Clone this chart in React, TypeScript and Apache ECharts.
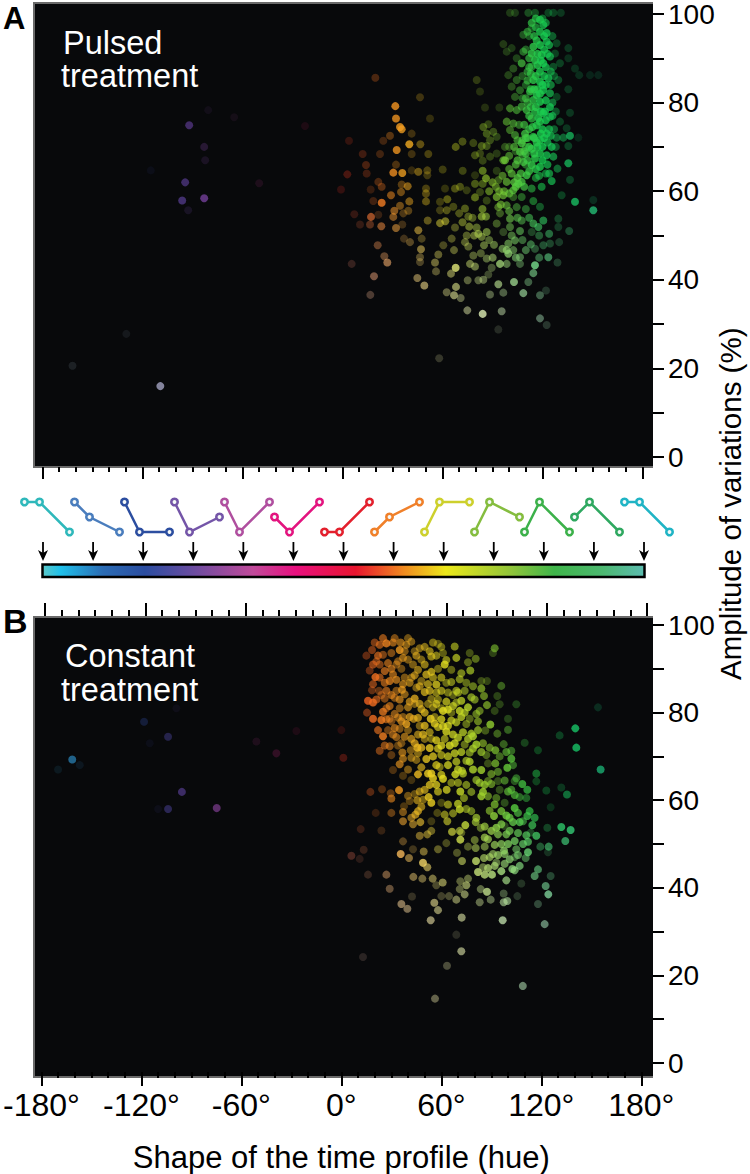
import React, { useEffect, useRef } from "react";
import * as echarts from "echarts";

type P = [number, number, number];

const pulsedPoints: P[] = [
[-92,74.9,.55],[-83,70,.25],[-82.4,67,.15],[-94.4,62,.55],[-96.2,57.9,.6],[-83,58.4,.7],[-92.6,55.7,.15],[-109.3,16,.7],[-162,20.6,.12],[-129.7,27.8,.08],[-80.6,78.3,.08],[-65,76.7,.08],[-22.5,74.7,.1],[-50,61.8,.12],[-115,64.7,.08],[58,22.3,.2],
[100.5,100.3,.25],[103.5,100.3,.25],[111.5,100.3,.35],[115.5,100.3,.35],[123.5,100.3,.3],[126.5,100.3,.3],[131,100.3,.25],
[118.5,98.7,.8],[120.5,97.5,.75],[113.5,98,.7],[122.5,95.7,.8],[118.5,96,.8],[116.5,94,.75],[122.5,93.8,.75],[114.5,92.6,.85],[118.5,93,.85],[113.5,91.1,.8],[119.5,90.8,.8],[124.5,90.4,.7],[115.5,89.6,.8],[120.5,88.9,.8],[107.5,88.9,.7],[113.5,88.1,.6],[118.5,87,.8],[123.5,85.5,.75],[114.5,85.1,.8],[118.5,84.7,.85],[112.5,82.5,.75],[120.5,82.8,.8],[116.5,81.7,.85],[124.5,82.1,.7],[114.5,80.6,.75],[118.5,80.2,.85],[124.5,79,.8],[110.5,78.3,.7],[115.5,77.9,.75],[120.5,77.6,.8],[113.5,76.4,.7],[118.5,75.7,.8],[124.5,76.8,.7],[116.5,74.9,.8],[109.5,73,.75],[122.5,73,.75],[114.5,72.3,.75],[118.5,71.5,.8],[107.5,70.8,.75],[125.5,70,.75],[113.5,69.6,.8],[106.5,68.9,.75],[118.5,68.5,.8],[122.5,68.1,.75],[115.5,67.4,.8],[126.5,67.8,.65],[108.5,66.6,.7],[118.5,65.5,.8],[113.5,65.9,.8],
[116,97,.6],[120,99,.5],[121,92,.75],[117,91,.8],[123,91,.7],[112,88,.6],[116,86,.8],[121,86,.75],[111,85,.6],[113,83,.75],[117,83,.8],[122,84,.7],[110,81,.6],[113,79,.7],[119,78,.85],[122,76,.8],[112,74,.7],[115,72,.8],[120,74,.8],[124,74,.7],[110,72,.7],[112,70,.75],[117,70,.8],[120,70,.8],[123,71,.7],[109,69,.7],[111,67,.7],[120,67,.8],[123,66,.7],[116,65,.75],[104,66,.65],[100,65,.55],[105,63,.75],[109,61,.7],[103,62,.75],[97,60,.6],[92,61,.5],
[111,96,.55],[116,99,.7],[122,98,.6],[124,93,.7],[115,95,.7],[121,95,.8],[119,89.5,.85],[112,90,.65],[111,87,.55],[122,88,.75],[125,87,.6],[117,88.5,.8],[113,86.5,.7],[120,84,.85],[125,84,.6],[115,83,.8],[118.5,82,.85],[122,80.5,.8],[111,80,.6],[126,80,.55],[116,79,.8],[112,77,.7],[117.5,76.5,.85],[121.5,78,.8],[126,77,.6],[109,75,.65],[114,74.5,.75],[119,73,.85],[125,72.5,.7],[111,72,.7],[116.5,71,.8],[108,71.5,.65],[121,72,.8],[103,70,.6],[105,71.5,.6],[110,68.5,.7],[115,68.5,.8],[105,67,.7],[112,64.5,.75],[124,64,.65],[107,64,.7],[118,63.5,.6],[100,68,.55],[96,63.5,.55],[90,62,.55],[100,59.5,.65],[104,61,.75],[94,60,.6],[88,60,.55],[95,57,.6],[84,56,.55],[78,54,.4],[72,53,.45],[76,52,.5],[79,50,.5],[70,55,.35],[105,54,.55],[112,54,.55],[100,55.5,.55],[113,48,.5],[108,49,.45],[118,50,.4],[96,47,.55],[104,45,.55],[118,45,.45],[83,46,.4],[88,49,.45],
[102.5,87.7,.35],[99.5,86.2,.3],[104.5,85.1,.4],[101.5,83.6,.35],[106.5,82.8,.45],[103.5,81.3,.4],[107.5,79.1,.6],[100.5,78.7,.55],[104.5,78.3,.55],[98.5,75.7,.55],[102.5,75.3,.55],[100.5,73.8,.5],[103.5,72.7,.55],[97.5,67,.7],[101.5,64,.65],[105.5,61.7,.8],[110.5,63.6,.8],[98.5,62.1,.65],[102.5,60.2,.7],[107.5,62.1,.75],[113.5,60.6,.55],[119.5,61,.6],[125.5,62.3,.7],
[110,84,.4],[108,81,.45],[112,95,.4],[110,92,.45],[108,86,.4],[126,95,.45],[127,86,.4],[128,78,.4],[127,74,.45],[106,75,.5],[110,70,.5],[128,70,.4],[110,66,.5],[122,64,.55],[116,63,.55],[108,68,.5],[104,69,.4],[100,70,.35],
[135.5,92.3,.25],[135.5,90,.2],[130.5,88.9,.3],[139.5,87.7,.2],[142,86.2,.2],[148.5,86.2,.15],[153.5,86.2,.15],[135.5,83,.25],[128.5,81.3,.3],[136.5,77.7,.25],[130.5,75.7,.3],[134.5,74.2,.25],[136.5,72.5,.75],[128.5,72.1,.5],[132.5,72.1,.5],[141.5,72.1,.15],[135.5,70.2,.3],[135.5,66.3,.75],[129,65.1,.5],[136.5,62.6,.3],[131.5,59.1,.3],[139.5,57.6,.8],[150.5,58,.2],[150.5,55.7,.8],
[96.5,93.2,.25],[98.5,91.5,.25],[101.5,92.3,.25],[108.5,95.3,.4],[108.5,91.5,.5],[113.5,96.8,.4],[128.5,93.4,.3],[127.5,91.1,.3],[126.5,88.1,.35],[129.5,85.1,.35],[104.5,90,.3],[80.5,85.1,.25],[82.5,82.5,.2],[85.5,78.9,.2],[94.1,78.9,.2],
[84.5,74.5,.4],[87.5,75.1,.3],[86.5,73,.4],[90.5,73.4,.35],[88.5,71.5,.35],[92.5,72.3,.3],[83.5,70.2,.4],[86.5,70.2,.35],[67.9,70,.4],[72,71.2,.35],[78.5,70.9,.3],[97.5,70,.35],[79.5,68.1,.35],[82.5,68.5,.3],[84.1,66.9,.3],[88.5,67.8,.3],[96.5,67,.6],[92.5,68.5,.25],
[84.1,64.6,.55],[72.1,64.6,.3],[60.1,64.9,.25],[92.5,64.6,.25],[79.5,63.6,.2],[86.1,62.9,.65],[93.5,62.5,.4],[84.1,61.7,.4],[79.5,61.7,.4],[70.5,61,.35],[67.5,60.6,.35],[61.5,60.6,.2],[74.5,60.2,.25],[82.5,59.8,.3],
[92.5,58.7,.65],[96.5,59.1,.65],[79.5,58.6,.5],[62.9,58.2,.4],[58.5,57.6,.25],[86.5,57.9,.3],[102.5,58.7,.4],[107.5,58.7,.45],[114.5,57.8,.5],[66.5,56.5,.3],[62.5,55.7,.35],[58.5,55.7,.25],[73.5,56.1,.4],[93.5,56.4,.5],[98.5,56.8,.55],[104.5,56.4,.45],[110,56,.45],[118.5,56.5,.4],
[75.5,54.3,.4],[83.5,54.3,.6],[86.1,54.3,.55],[94.5,55,.4],[100.5,53.8,.6],[107.5,53.4,.5],[129.5,53.8,.3],[120.5,53.4,.6],[114.5,52.7,.6],[117.5,51.9,.6],[58.5,52.8,.5],[61.7,53.2,.5],[51.1,53.4,.4],[67.5,51.8,.35],[80.5,51.8,.45],[92.5,52.7,.4],[100.5,51.9,.5],[106.5,51,.55],[129.5,51.9,.25],[136,51,.35],[124,50.4,.5],
[45.5,51.2,.55],[74.5,50,.4],[81.5,50.4,.55],[86.5,50.8,.55],[83.5,49.7,.5],[96.5,50.8,.3],[103.5,48.9,.55],[101.5,50,.5],[113.5,50.8,.3],[47.5,49.3,.3],[65.5,49.3,.35],[73.5,48.5,.4],[75.5,47.5,.4],[84.9,47.8,.5],[90.9,47.9,.5],[99.5,48.2,.55],[130,48.5,.25],[120.5,47.8,.35],[124.5,48.2,.3],
[47.1,46.9,.55],[60.5,47.8,.3],[66.9,46.7,.4],[98.5,46.7,.65],[102.5,46.7,.5],[110,46.7,.5],[115.5,47,.35],[57.5,45.7,.4],[46.5,45.1,.35],[46.5,44,.3],[55.5,43.9,.45],[78.5,45.5,.4],[86.5,44.8,.45],[90.1,45,.55],[99.5,45.9,.7],[106.5,45.1,.5],[123.5,45.1,.6],
[76.5,43.6,.5],[79.5,43,.5],[94.5,43.6,.75],[98.5,43.6,.5],[106.5,43.6,.4],[115.5,43.3,.85],[129,43.9,.25],[67.9,42.7,.95],[56.1,41.9,.35],[65.1,41.4,.5],[89.5,42.7,.35],[87.5,41.2,.3],[114.5,41.5,.6],
[44.9,40.4,.5],[75.1,39.9,.4],[81.5,39.9,.4],[84.5,40,.45],[93.5,39,.65],[102.9,39.5,.75],[111.5,39.5,.4],[49.1,38.7,.6],[68.1,38.4,.6],[62.5,37.2,.4],[66.9,36.5,.6],[70.9,35.9,.4],[88.5,36.7,.4],[96.5,37.1,.4],[108.5,37,.65],[118.5,36.5,.4],[122.1,37.6,.2],
[74.9,33.1,.5],[84.1,32.3,.9],[95.5,32.9,.5],[118.5,31.3,.45],[122.5,29.8,.2],[93.5,28.8,.15],
[19.7,85.6,.3],[46.5,81.2,.25],[31.7,79.2,.85],[32.1,76.4,.8],[34.5,74.5,.85],[35.5,74,.8],[52.5,76.4,.2],[3.9,71.4,.2],[41.5,73,.25],[28.5,72.5,.35],[24.5,71.4,.25],[40.1,70.6,.85],[46.7,70.6,.4],[32.5,69.3,.8],[12.1,68.4,.25],[22.5,68.4,.25],[41.5,68.4,.25],[51.5,68.4,.3],[14.1,65.9,.3],[32.1,66,.3],[2.9,63.8,.3],[14.5,64,.25],[30.5,64.2,.8],[35.9,64.1,.8],[45.5,64.4,.45],[41.5,64.7,.2],[50.9,64.7,.3],[50.9,63.6,.25],[21.5,62.1,.3],[23.5,61,.35],[35.5,61.5,.35],[39.1,61.1,.55],[16.9,60.4,.2],[-0.9,60.4,.2],[35.1,59.8,.45],[50.1,60.6,.3],[50.1,59.5,.35],[29.1,59.1,.55],[18.5,57.8,.25],[23.5,57.4,.9],[40.1,57.7,.5],[50.1,57.7,.4],[34.5,56.7,.45],[31.1,55.6,.55],[39.5,55.6,.35],[36.5,55,.3],[7.1,54.8,.2],[21.5,54.7,.2],[17.1,54.2,.65],[30.5,54.2,.5],[10.5,52.5,.2],[16.5,52.5,.35],[23.3,52.1,.55],[32.1,51.7,.55],[35.9,52.5,.25],[36.9,49.3,.25],[40.5,48.5,.35],[21.1,47.8,.4],[25.1,45.3,.4],[26.9,43.9,.6],[5.5,43.6,.2],[18.9,40.8,.5],[16.7,36.6,.3],
];

const constantPoints: P[] = [
[-161.5,69.3,.7],[-118.4,77.9,.3],[-104,74.5,.4],[-95.7,61.9,.55],[-104,58,.45],[-74.8,58.2,.6],[-170,67,.12],[-157,68,.12],[-51,73.4,.12],[-39,70.7,.2],[-27,75.8,.1],[0,76,.15],[-99,81,.08],[-115,73,.08],[-110,58,.08],
[27,95.8,.8],[23,95.5,.6],[18.4,94.3,.5],[35.6,96,.6],[42,96.2,.5],[35,94.3,.8],[30,93.6,.5],[21,91.7,.5],[25,93.2,.5],[23,91,.5],[17,89.6,.4],[28,91.3,.6],[34,91.7,.5],[40,92.1,.5],[47,94.7,.5],[53,94,.6],[58,95.7,.35],[68,95.1,.6],[61,93.6,.4],[69,92.5,.7],[92,94.7,.6],[91,93.6,.3],[77,93.6,.35],[80.6,92.3,.5],[76,91.5,.45],[62,91,.9],[54,92.8,.6],[48,92.1,.5],[43,91,.5],[46,89.8,.6],[54,89.3,.7],[51,88.7,.7],[66,89.8,.45],[77.4,89.6,.7],
[31,96,.6],[39,95.5,.55],[45,93,.6],[50,95,.55],[55,96,.5],[60,95,.45],[63,92,.6],[57,93,.55],[50,91,.6],[37,92.5,.6],[30,90,.6],[26,89.5,.65],[22,93,.65],[19,91,.6],[15,93,.4],[20,96,.5],[25,97,.6],[32,97,.5],[40,97,.45],
[19,86.5,.55],[23,88,.6],[27,85,.6],[33,87.5,.65],[37,86.5,.6],[44,88.5,.6],[47,86,.6],[52,86.5,.65],[55,88,.6],[60,88,.6],[60,85,.6],[66,87,.55],[69,85,.6],[72,89,.6],[74,85,.55],[79,86,.55],[80,83,.6],
[21,83,.6],[29,81.5,.6],[30,84,.6],[35,83,.65],[41,82.5,.65],[47,82,.65],[50,80,.7],[53,85,.65],[57,82,.65],[63,82.5,.7],[67,81.5,.7],[74,80,.7],[78,83.5,.65],[82,78,.6],
[22,76,.65],[27,78.5,.6],[32,76.5,.6],[36,78,.65],[41,79,.7],[46,78.8,.7],[49,75,.7],[56,77.5,.75],[60,78.5,.75],[64,77,.75],[67,75,.75],[72,79,.75],[73,75.5,.75],[82,76,.7],[85,73,.6],
[26,72.5,.55],[31,75,.55],[38,74.5,.6],[44,73,.7],[48,72,.75],[55,70,.75],[60,72.5,.75],[68,73,.8],[72,71,.75],[76,74,.75],[84,71,.7],[89,72,.6],[95,70,.5],[99,71,.6],[64,70,.7],
[40,67,.5],[48,67.5,.65],[57,68,.7],[64,68,.75],[70,67,.75],[75,69,.65],[90,66,.6],[94,66.5,.55],[57,63.5,.75],[58,62,.65],[66,64,.55],[70,64,.6],[86,63.5,.75],[83,64,.7],[98,64.5,.55],[100,62,.65],[105,65,.5],
[42,56,.55],[40,61,.45],[48,58.5,.6],[64,59,.6],[67,57,.55],[75,58,.55],[78,57.5,.55],[92,59,.7],[96,57.5,.75],[99,56.5,.8],[103,55,.75],[107,55,.75],[113,57.5,.7],[116,56,.65],[86,54,.7],[90,53,.75],[96,54.5,.75],[101,53,.7],[106,52.5,.7],[111,52,.7],[86,51.5,.7],[96,50,.7],[100,50,.75],[112,50.5,.7],
[89,47,.65],[94,47.5,.7],[101,46.5,.7],[106,47.5,.6],[88,44.5,.75],[92,45,.7],[104,44,.7],
[20.4,88.1,.9],[31,88.7,.6],[26,86.8,.6],[29,87.2,.7],[41,86.8,.6],[48,87.2,.5],[57,86.4,.75],[63,86.8,.45],[71,87.6,.6],[75,86.8,.5],[84,87.2,.35],[87.4,87.2,.3],[84,85.5,.65],[96,86.1,.45],
[36,90,.45],[38,88,.5],[33,85,.5],[24,84,.45],[27,81,.5],[35,81,.5],[44,82,.5],[42,88,.5],[30,78,.45],[37,79,.5],[28,76,.45],[40,76,.5],[47,77,.5],[56,79,.5],[58,83,.5],[60,81,.45],[67,84,.4],[66,80,.45],[52,82,.5],[50,74,.5],[36,73,.45],[54,74,.5],[33,91,.45],[58,90,.45],[38,94,.5],[44,94,.45],
[18.4,85.1,.4],[22.6,85,.4],[36.4,85.2,.7],[45,85.7,.5],[50,84.7,.7],[57,84.6,.55],[64,84.6,.5],[70,84.6,.6],[85.6,83.8,.6],[93.6,83.8,.3],
[16,82.7,.9],[19,82.3,.9],[26,83.2,.5],[32,83.4,.5],[44,83.2,.75],[38,84.2,.55],[54,83.1,.5],[72,82.7,.75],[69,82.3,.55],[76,81.2,.85],[87.4,81.7,.65],[95,81.9,.3],[105,81.9,.3],
[25,80.2,.75],[15.4,80,.45],[32,79.7,.55],[40,81.2,.6],[48,80.8,.65],[55,81.2,.5],[61,80.4,.9],[64,80.7,.85],[71,80.4,.85],[81,79.7,.55],[83,80.4,.55],[92,80.4,.3],
[19,78.6,.9],[24,78.3,.85],[29,78.6,.45],[34,78.9,.55],[43.4,78.6,.65],[53.6,78.6,.95],[66,78.2,.7],[69,77.8,.7],[77,78.6,.45],[100,78.6,.3],
[39,77.4,.8],[50,77,.75],[58,76.7,.65],[75,77.4,.5],[89.4,77.3,.85],[35,76.3,.5],[61,76.9,.75],[63,75.7,.8],[78,75.2,.75],[86.4,75.9,.4],[93.6,75.2,.45],[100,76.1,.45],[140.4,76.4,.85],
[25,74.6,.85],[33,74.4,.55],[46,75,.6],[53,75.5,.6],[79,74.6,.9],[70,74.3,.75],[131,74.8,.3],
[29,72.3,.55],[23,71.3,.5],[34,72.5,.4],[42,74,.65],[57,73.7,.75],[62,74,.6],[65,72.5,.95],[81,72.7,.9],[79,71.8,.75],[74,72.7,.5],[97.4,72.8,.45],[110,73.1,.3],
[45.6,72,.95],[53,71.9,.9],[58,71.8,.7],[46,70.7,.55],[36.6,70.9,.6],[41.6,71.4,.5],[92.4,71.4,.7],[87,70.3,.45],[102,71.3,.5],[118,71.4,.3],[141,72,.9],
[1.2,69.7,.3],[30,70.3,.35],[37,69.5,.6],[42,69.7,.55],[45,69.2,.5],[60,70.3,.6],[68,70.7,.75],[51,69.4,.8],[77,70.9,.6],[102,69.5,.75],
[35,68.2,.65],[77,68.8,.8],[69,68.8,.7],[92.4,68.4,.7],[88,68.4,.35],[103,68,.5],[31,66.9,.3],[59,67.6,.5],[99.6,67.4,.8],[79,67,.9],[84,66.9,.85],[72.4,66.7,.7],
[37,65.6,.3],[46,65.9,.85],[54,66.1,1],[52,66.1,.9],[60,65.8,.7],[68.4,65.9,.85],[73,66.1,.7],[117,66.1,.5],[42,64.6,.25],[61,64.9,.95],[55,65,.85],[81,64.6,.65],[88,64.4,.5],[94,64.4,.35],[104,64.4,.4],[117,64.3,.3],
[24.4,62.5,.3],[34.6,62.3,.85],[53,63.5,.75],[50,62.4,.65],[47,62,.6],[63.2,62.4,.75],[75,63.5,.6],[90,63.7,.6],[108.6,63.7,.75],[111.6,62.4,.7],[132,62.9,.25],
[17.4,61.9,.35],[29.6,61.6,.35],[44,61.4,.4],[71.4,62,.95],[78,61.9,.6],[85,61.9,.9],[95,62.4,.35],[102,62.4,.6],[123,62.2,.3],[135.4,61.3,.55],
[30,60.4,.6],[41,59.8,.35],[45.6,60,.6],[52.4,60.7,.9],[73.6,60.5,.6],[84,60.9,.85],[88,60.9,.6],[93,60.5,.5],[104,61.2,.65],[107,60.7,.5],[111,60.5,.45],[54,59.4,.85],[49,60.1,.5],[70,59.2,.75],[60,59.4,.3],[98,59.4,.35],
[71,57.9,.8],[46,57.5,.7],[37.6,58.6,.3],[89,57.6,.65],[104,58.2,.9],[125.6,58.4,.2],[20.6,57.1,.2],[30,57.1,.4],[37,57.3,.5],[44.4,56.7,.65],[57.6,57.1,.3],[62,56.7,.55],[91.6,56.4,.85],[101,56,.75],[106,57.1,.65],[111.6,56.4,.7],[81,56,.7],
[37,55.2,.6],[47.4,55,.65],[43,54.5,.55],[54,55.2,.25],[63.6,55.2,.6],[74.4,54.3,.9],[80.6,55,.65],[114.6,54.3,.7],[109,55.2,.55],[11.6,53.4,.2],[24,53.1,.2],[54,53,.45],[66.4,52.8,.7],[71,53,.6],[83.6,53.7,.5],[93,53.7,.8],[98,54.1,.3],[132,53.9,.8],[137.6,53.2,.85],[123.6,53.7,.3],
[47,51.9,.5],[51.6,52.2,.5],[72,52.6,.4],[94,52.2,.7],[99,52.2,.7],[117,51.9,.75],[113.6,52.6,.3],[71.4,51,1],[80,50.9,.5],[88,51.1,.7],[104,50.7,.75],[134.4,50.7,.7],[37,50.6,.35],[63,50.2,.3],[92,49.8,.7],[109,50,.7],[124.4,49.4,.6],
[80.6,49.1,.55],[86,49.4,.55],[119.4,49.4,.4],[43,48.8,.25],[58,48.8,.4],[76,49.4,.4],[97.6,48.5,.75],[105,48.8,.55],[112,48.1,.8],[13.4,48.7,.2],[49.4,48.3,.5],[69.4,48,.35],[35.6,47.7,1],[91,47.7,.6],[98,47.7,.65],[124,48.1,.2],
[6,47.3,.3],[11,46.6,.15],[40.6,46.8,.55],[85.6,46.8,.65],[110.6,46.8,.5],[104,47,.4],[49,45.7,.95],[72.4,46.1,.6],[80.8,46.1,1],[93,45.8,.5],[98,45.5,.65],[51.6,44.7,.6],[107,45,.7],[102.6,44.3,.75],[118,44.2,.6],[85,44.7,.5],[96,43.8,.85],
[16,43,.2],[27,43,.45],[82,43.6,1],[86,43,.8],[90.4,43,.85],[116,42.7,.6],[125.6,42.7,.3],[43.2,42.5,.5],[48.6,42.1,.45],[54.8,42.1,.5],[76,42.1,.45],[99,41.7,.7],[71.4,41.5,.4],[60.8,41.2,.55],[75,40.6,.6],[57,40.6,.3],[108,41,.2],
[29,39.8,.4],[122.6,40.4,.6],[83.6,39.7,.45],[71,39.7,.4],[87.4,39.1,.8],[124.2,38.5,.75],[42.4,38,.2],[60,38.1,.25],[64.6,38.1,.3],[74,38.5,.55],[97.4,38.7,.35],[105.6,38.1,.2],
[36,36.3,.55],[69,37.3,.5],[89.6,37.3,.45],[99.6,37,.6],[97.4,36.7,.6],[55.8,36.6,.6],[83,36.7,.45],[118,36.3,.3],[39.6,35.2,.5],[58,34.9,.55],[72.2,33.2,.6],[53.6,32.6,.6],[96.8,32.6,.75],[122,31.7,.55],
[69,29.3,.15],[72,25.5,.6],[13,24.2,.15],[63.4,22.2,.3],[108.9,17.6,.55],[56.2,14.7,.4],[155.6,67,.75],[154,81.2,.2],
];

const hueStops: [number, string][] = [
[-180,"#2bb8d0"],[-150,"#2c74c0"],[-120,"#3050b0"],[-90,"#7a4ab8"],[-60,"#b84aa8"],[-30,"#e81a80"],[0,"#e83020"],[30,"#f59020"],[60,"#e8e020"],[90,"#90d030"],[120,"#18cc50"],[150,"#18c070"],[180,"#2bb8b8"],
];

const xTicks = { min: -180, max: 180, interval: 60 };
const yTicks = { min: 0, max: 100, interval: 20 };

const profileHues = [-180,-150,-120,-90,-60,-30,0,30,60,90,120,150,180];
const profileFirst = [1,1,1,1,1,.5,0,0,0,0,0,.5,1];
const profileSecond = [1,.5,0,0,0,0,0,.5,1,1,1,1,1];
const profileThird = [0,0,0,.5,1,1,1,1,1,.5,0,0,0];
const profileColors = ["#2fb8bb","#4a7dbd","#2c4ea0","#7455a8","#b04f9f","#e3147f","#e3202d","#f0802a","#cdd02d","#85bd3f","#3cb14a","#2fa860","#20b4c5"];
const timeOffsets = [-10.8,-1.8,16.2];

const barStops: [number, string][] = [
[0,"#5cc8c8"],[.03,"#1fc0ea"],[.1,"#2b6cb4"],[.17,"#2b4da0"],[.25,"#6a4ca0"],[.35,"#c04a9a"],[.42,"#e8107f"],[.52,"#e8152f"],[.6,"#f08a20"],[.67,"#ece81a"],[.78,"#8fc43a"],[.85,"#3fb54a"],[.93,"#4cb870"],[1,"#5cbcb0"],
];

const FONT = "Liberation Sans";

function parseHex(h: string) {
  return [parseInt(h.slice(1, 3), 16), parseInt(h.slice(3, 5), 16), parseInt(h.slice(5, 7), 16)];
}
function dotColor(hue: number, amp: number, b: number) {
  let i = 0;
  while (i < hueStops.length - 2 && hue > hueStops[i + 1][0]) i++;
  const [h0, c0] = hueStops[i];
  const [h1, c1] = hueStops[i + 1];
  const t = Math.max(0, Math.min(1, (hue - h0) / (h1 - h0)));
  const a = parseHex(c0), z = parseHex(c1);
  const w = Math.max(0, Math.min(0.65, (58 - amp) / 40));
  const rgb = a.map((v, k) => Math.round((v + (z[k] - v) * t) * (1 - w) + 255 * w));
  return `rgba(${rgb[0]},${rgb[1]},${rgb[2]},${Math.min(1, b * 1.2)})`;
}
const byBrightness = (pts: P[]) => [...pts].sort((p, q) => p[2] - q[2]);

function hiddenAxes(gridIndex: number) {
  return {
    x: { type: "value", gridIndex, min: -180, max: 180, show: false },
    y: { type: "value", gridIndex, min: 0, max: 1, show: false },
  };
}
function xAxis(gridIndex: number, position: string, offset: number, length: number, minor: number, labels: boolean, extra: any = {}) {
  return {
    type: "value", gridIndex, position, offset, ...xTicks,
    axisLine: { show: false, onZero: false },
    axisTick: { show: true, length, lineStyle: { color: "#000", width: 2 } },
    minorTick: { show: true, splitNumber: 6, length: minor, lineStyle: { color: "#000", width: 2 } },
    splitLine: { show: false },
    axisLabel: labels
      ? { show: true, formatter: (v: number) => `${v}°`, color: "#000", fontFamily: FONT, fontSize: 32, margin: 17 }
      : { show: false },
    ...extra,
  };
}
function yAxis(gridIndex: number, offset: number) {
  return {
    type: "value", gridIndex, position: "right", offset, ...yTicks,
    axisLine: { show: false, onZero: false },
    axisTick: { show: true, length: 11, lineStyle: { color: "#000", width: 2 } },
    minorTick: { show: true, splitNumber: 2, length: 11, lineStyle: { color: "#000", width: 2 } },
    splitLine: { show: false },
    axisLabel: { color: "#000", fontFamily: FONT, fontSize: 28, margin: 15 },
  };
}
function panel(x: number, y: number, r: number, b: number) {
  return [
    { type: "rect", z: -10, shape: { x, y, width: r - x, height: b - y }, style: { fill: "#08090b" } },
    { type: "polyline", z: -9, shape: { points: [[r, y], [x, y], [x, b], [r, b]] }, style: { stroke: "#6a6a6a", lineWidth: 2, fill: "none" } },
  ];
}
function label(text: string, x: number, y: number, fill: string, size: number, weight = "normal") {
  return { type: "text", z: 100, x, y, style: { text, fill, fontWeight: weight, fontSize: size, fontFamily: FONT } };
}

export default function App() {
  const ref = useRef<HTMLDivElement>(null);
  useEffect(() => {
    const chart = echarts.init(ref.current!, null, { renderer: "svg", width: 750, height: 1174 });
    const g1 = hiddenAxes(1), g2 = hiddenAxes(2);
    const profileData = profileHues.map((h, i) => [h, profileFirst[i], profileSecond[i], profileThird[i], i]);
    const scatterCommon = {
      type: "scatter", symbolSize: 8, clip: false, silent: true,
      itemStyle: { color: (p: any) => dotColor(p.data[0], p.data[1], p.data[2]) },
    };
    chart.setOption({
      animation: false,
      backgroundColor: "#fff",
      grid: [
        { left: 42.5, width: 600, top: 14, height: 443 },
        { left: 42.5, width: 600, top: 502, height: 30 },
        { left: 43, width: 601, top: 542, height: 19 },
        { left: 45, width: 602, top: 616, height: 1 },
        { left: 39.3, width: 602, top: 625, height: 443 },
      ],
      xAxis: [
        xAxis(0, "bottom", 10, 12, 5, false),
        g1.x, g2.x,
        xAxis(3, "top", 0, 13, 6, false),
        xAxis(4, "bottom", 9, 14, 6, true, {
          name: "Shape of the time profile (hue)", nameLocation: "middle", nameGap: 70,
          nameTextStyle: { color: "#000", fontFamily: FONT, fontSize: 31 },
        }),
      ],
      yAxis: [
        yAxis(0, 10.5),
        g1.y, g2.y,
        { type: "value", gridIndex: 3, min: 0, max: 1, show: false },
        yAxis(4, 11.7),
      ],
      graphic: [
        ...panel(34, 3, 653, 467),
        ...panel(34, 617, 653, 1077),
        {
          type: "rect", z: 5, shape: { x: 42.5, y: 564.5, width: 602, height: 12.5 },
          style: {
            stroke: "#000", lineWidth: 2.5,
            fill: new echarts.graphic.LinearGradient(0, 0, 1, 0, barStops.map(([offset, color]) => ({ offset, color }))),
          },
        },
        label("A", 3, 3, "#000", 31, "bold"),
        label("B", 3, 604, "#000", 34, "bold"),
        label("Pulsed", 63, 26, "#fff", 32.5),
        label("treatment", 61, 59, "#fff", 32.5),
        label("Constant", 65, 639, "#fff", 32.5),
        label("treatment", 61, 673, "#fff", 32.5),
        {
          type: "text", z: 100, x: 715, y: 680, rotation: Math.PI / 2,
          style: { text: "Amplitude of variations (%)", fill: "#000", fontFamily: FONT, fontSize: 29.5 },
        },
      ],
      series: [
        { ...scatterCommon, xAxisIndex: 0, yAxisIndex: 0, data: byBrightness(pulsedPoints) },
        { ...scatterCommon, xAxisIndex: 4, yAxisIndex: 4, data: byBrightness(constantPoints) },
        {
          type: "custom", xAxisIndex: 1, yAxisIndex: 1, clip: false, silent: true, data: profileData,
          renderItem: (_p: any, api: any) => {
            const h = api.value(0), color = profileColors[api.value(4)];
            const pts = timeOffsets.map((o, k) => api.coord([h + o, api.value(k + 1)]));
            return {
              type: "group",
              children: [
                { type: "polyline", shape: { points: pts }, style: { stroke: color, lineWidth: 2.5, fill: "none" } },
                ...pts.map((p: number[]) => ({
                  type: "circle", shape: { cx: p[0], cy: p[1], r: 3.2 },
                  style: { fill: "#f4f8f8", stroke: color, lineWidth: 2.6 },
                })),
              ],
            };
          },
        },
        {
          type: "custom", xAxisIndex: 2, yAxisIndex: 2, clip: false, silent: true,
          data: profileHues.map((h) => [h]),
          renderItem: (_p: any, api: any) => {
            const a = api.coord([api.value(0), 1]), b = api.coord([api.value(0), 0]);
            return {
              type: "group",
              children: [
                { type: "line", shape: { x1: a[0], y1: a[1], x2: b[0], y2: b[1] - 6 }, style: { stroke: "#000", lineWidth: 1.8 } },
                { type: "polygon", shape: { points: [[b[0] - 5, b[1] - 11], [b[0], b[1] - 8], [b[0] + 5, b[1] - 11], [b[0], b[1]]] }, style: { fill: "#000" } },
              ],
            };
          },
        },
      ],
    });
    return () => chart.dispose();
  }, []);
  return <div ref={ref} style={{ position: "fixed", left: 0, top: 0, width: 750, height: 1174 }} />;
}
